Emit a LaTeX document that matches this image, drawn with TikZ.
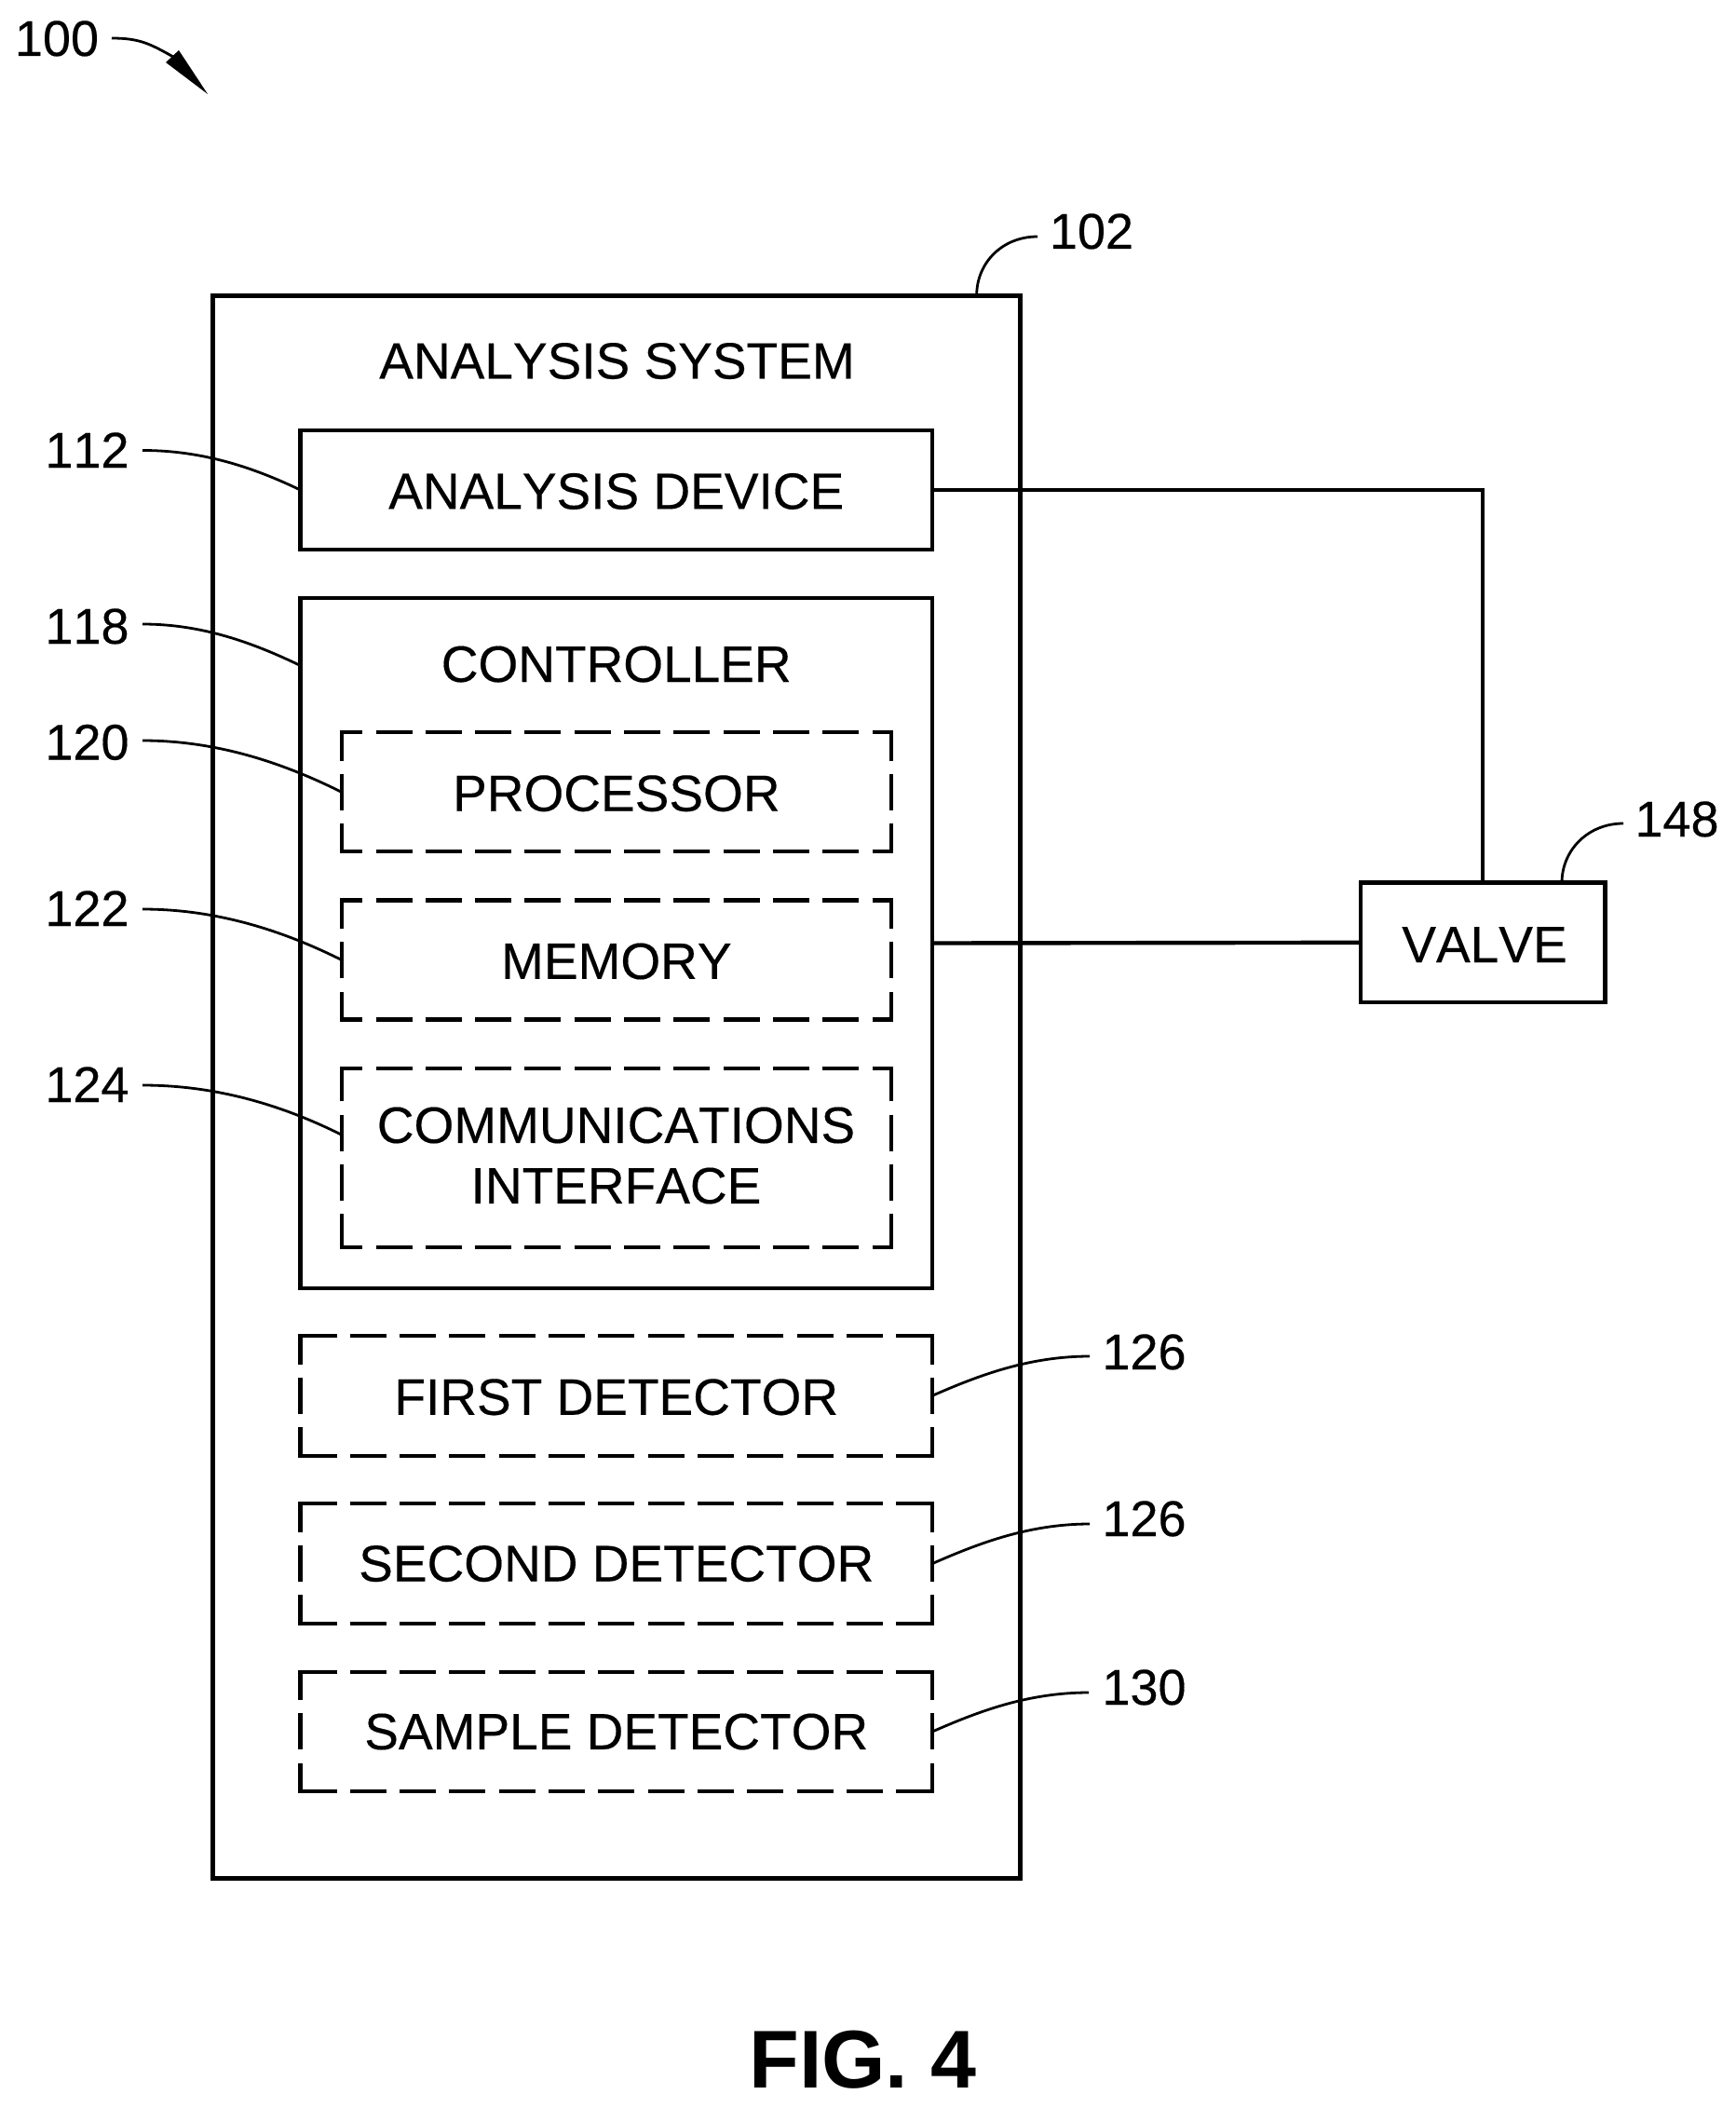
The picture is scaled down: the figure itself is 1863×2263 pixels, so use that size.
\documentclass[tikz,border=0pt]{standalone}
\usepackage{fontspec}
\setmainfont{Liberation Sans}
\newfontfamily\boxfont[Kerning=Off,FakeBold=0.3]{Liberation Sans}
\usetikzlibrary{calc}
\tikzset{
  boxtext/.style={font=\boxfont\fontsize{27.5pt}{32.5pt}\selectfont},
  solidbox/.style={draw=black,line width=2.3pt,inner sep=0pt,outer sep=0pt,align=center,boxtext,text height=20.4pt,text depth=0pt},
  plainbox/.style={inner sep=0pt,outer sep=0pt,align=center,boxtext},
  lowered/.style={text height=20.4pt,text depth=0pt},
  title/.style={inner sep=0pt,outer sep=0pt,anchor=base,boxtext},
  reflabel/.style={inner sep=0pt,outer sep=0pt,anchor=base,font=\boxfont\fontsize{27pt}{32pt}\selectfont},
  leader/.style={draw=black,line width=1.4pt},
  wire/.style={draw=black,line width=2.2pt},
  dashline/.style={draw=black,line width=2.1pt,dash pattern=on 19.5pt off 7.15pt},
}
\newcommand{\dbox}[3]{%
  \draw[dashline,dash phase=#2] (#1.north west) -- (#1.north east);
  \draw[dashline,dash phase=#2] (#1.south west) -- (#1.south east);
  \draw[dashline,dash phase=#3] (#1.north west) -- (#1.south west);
  \draw[dashline,dash phase=#3] (#1.north east) -- (#1.south east);
  \foreach \c in {north west,north east,south west,south east}{
    \fill[black] ([shift={(-2.1,-2.1)}]#1.\c) rectangle +(4.2,4.2);
  }%
}
\begin{document}
\begin{tikzpicture}[x=0.5pt,y=-0.5pt]
\useasboundingbox (0,0) rectangle (1863,2263);
% boxes
\node[solidbox,minimum width=433.5pt,minimum height=849.5pt] (system) at (662.15,1166.75) {};
\node[title] (systemtitle) at (662.5,406.5) {ANALYSIS SYSTEM};
\node[solidbox,minimum width=339.25pt,minimum height=64pt] (analysis) at (661.75,526) {ANALYSIS DEVICE};
\node[solidbox,minimum width=339.25pt,minimum height=370.5pt] (controller) at (661.75,1012.5) {};
\node[title] (controllertitle) at (661.75,732) {CONTROLLER};
\node[plainbox,lowered,minimum width=295.15pt,minimum height=64pt] (processor) at (661.85,850.3) {PROCESSOR};
\node[plainbox,lowered,minimum width=295.15pt,minimum height=64pt] (memory) at (661.85,1030.5) {MEMORY};
\node[plainbox,minimum width=295.15pt,minimum height=96pt] (comm) at (661.85,1242.7) {};
\node[plainbox] (commtext) at (661.5,1240.5) {COMMUNICATIONS\\INTERFACE};
\node[plainbox,lowered,minimum width=339.25pt,minimum height=64.35pt] (first) at (661.75,1498.35) {FIRST DETECTOR};
\node[plainbox,minimum width=339.25pt,minimum height=64.35pt] (second) at (661.75,1678.6) {SECOND DETECTOR};
\node[plainbox,minimum width=339.25pt,minimum height=64.35pt] (sample) at (661.75,1859) {SAMPLE DETECTOR};
\node[draw=black,line width=2.3pt,minimum width=131.25pt,minimum height=64.15pt,inner sep=0pt,outer sep=0pt] (valve) at (1592.25,1011.85) {};
\node[title] (valvetext) at (1594,1033) {VALVE};
\dbox{processor}{8.25pt}{4.25pt}
\dbox{memory}{8.25pt}{4.25pt}
\dbox{comm}{8.25pt}{1.75pt}
\dbox{first}{0pt}{4.25pt}
\dbox{second}{0pt}{4.25pt}
\dbox{sample}{0pt}{4.25pt}
% wires
\draw[wire] (analysis.east) -- (analysis.east -| valve.north) -- (valve.north);
\draw[wire] (controller.east) -- (valve.west);
% reference labels
\node[reflabel] (r100) at (61,60) {100};
\node[reflabel] (r102) at (1172,267) {102};
\node[reflabel] (r112) at (93.5,502) {112};
\node[reflabel] (r118) at (93.5,691) {118};
\node[reflabel] (r120) at (93.5,815.5) {120};
\node[reflabel] (r122) at (93.5,994) {122};
\node[reflabel] (r124) at (93.5,1183) {124};
\node[reflabel] (r126a) at (1228.5,1470) {126};
\node[reflabel] (r126b) at (1228.5,1649) {126};
\node[reflabel] (r130) at (1228.5,1830) {130};
\node[reflabel] (r148) at (1800.5,898) {148};
\node[inner sep=0pt,outer sep=0pt,anchor=base,font=\fontsize{44pt}{48pt}\selectfont\bfseries] (fig) at (926.5,2241) {FIG. 4};
% leader start points
\coordinate (a100) at (120,41);
\coordinate (e100) at (186,61);
\coordinate (tip100) at (223,101);
\coordinate (a102) at (1114,254);
\coordinate (a112) at (153,483.5);
\coordinate (a118) at (153,670);
\coordinate (a120) at (153,795);
\coordinate (a122) at (153,976);
\coordinate (a124) at (153,1165);
\coordinate (a126a) at (1170,1456);
\coordinate (a126b) at (1170,1636);
\coordinate (a130) at (1169,1817);
\coordinate (a148) at (1743,884);
% leaders
\draw[leader] (a100) .. controls +(30,0) and +(-25,-14) .. (e100);
\fill[black] (tip100) -- (192,54) -- (178,67) -- cycle;
\draw[leader] (a102) .. controls +(-38,0) and +(0,-35) .. ($(system.north west)+(820,0)$);
\draw[leader] (a112) .. controls +(65,0) and +(-50,-24) .. (analysis.west);
\draw[leader] (a118) .. controls +(65,0) and +(-50,-24) .. ($(controller.north west)+(0,72.5)$);
\draw[leader] (a120) .. controls +(77,0) and +(-66,-33) .. (processor.west);
\draw[leader] (a122) .. controls +(77,0) and +(-66,-33) .. (memory.west);
\draw[leader] (a124) .. controls +(77,0) and +(-66,-33) .. ($(comm.north west)+(0,71.5)$);
\draw[leader] (a126a) .. controls +(-65,0) and +(50,-22) .. (first.east);
\draw[leader] (a126b) .. controls +(-65,0) and +(50,-22) .. (second.east);
\draw[leader] (a130) .. controls +(-65,0) and +(50,-22) .. (sample.east);
\draw[leader] (a148) .. controls +(-38,0) and +(0,-35) .. ($(valve.north west)+(216,0)$);
\end{tikzpicture}
\end{document}
